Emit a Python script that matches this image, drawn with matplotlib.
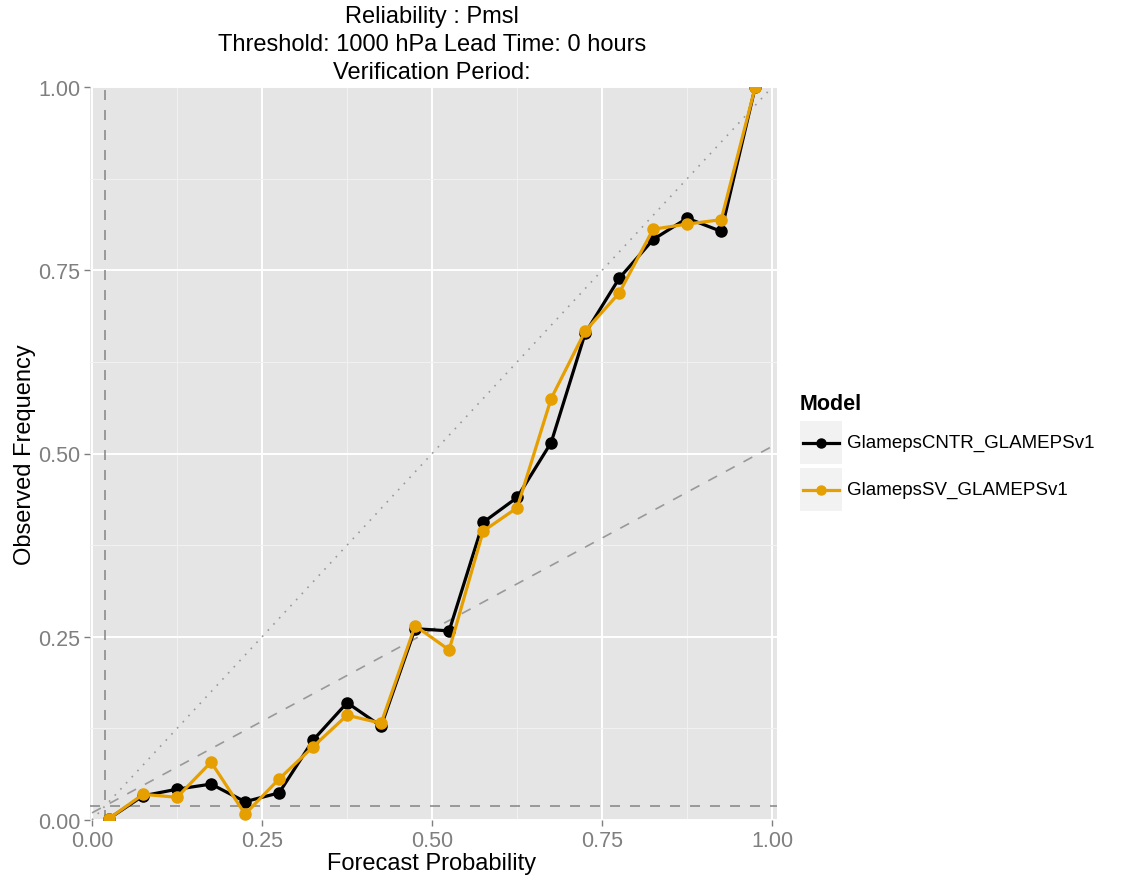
import matplotlib
matplotlib.use("Agg")
import matplotlib.pyplot as plt
from matplotlib.lines import Line2D
from matplotlib.patches import Rectangle

plt.rcParams['font.family'] = ['Liberation Sans', 'DejaVu Sans']

# forecast probability bins and observed frequencies
prob = [0.025, 0.075, 0.125, 0.175, 0.225, 0.275, 0.325, 0.375, 0.425, 0.475,
        0.525, 0.575, 0.625, 0.675, 0.725, 0.775, 0.825, 0.875, 0.925, 0.975]
cntr = [0.002, 0.033, 0.042, 0.049, 0.025, 0.037, 0.109, 0.160, 0.128, 0.261,
        0.258, 0.406, 0.440, 0.515, 0.664, 0.739, 0.792, 0.821, 0.803, 1.0]
sv = [0.002, 0.035, 0.031, 0.079, 0.008, 0.056, 0.100, 0.143, 0.132, 0.265,
      0.232, 0.394, 0.426, 0.575, 0.667, 0.719, 0.806, 0.813, 0.819, 1.0]
models = ["GlamepsCNTR_GLAMEPSv1", "GlamepsSV_GLAMEPSv1"]
colours = ["#000000", "#E69F00"]
clim = 0.0195
ticks = [0.0, 0.25, 0.5, 0.75, 1.0]
tick_labels = ["0.00", "0.25", "0.50", "0.75", "1.00"]
title_lines = ["Reliability : Pmsl",
               "Threshold: 1000 hPa Lead Time: 0 hours",
               "Verification Period:"]

W, H = 1130, 879
fig = plt.figure(figsize=(W / 100, H / 100), dpi=100)
ax = fig.add_axes([90 / W, 1 - 821 / H, 687 / W, 733 / H])
ax.set_facecolor("#E5E5E5")
for s in ax.spines.values():
    s.set_visible(False)

ax.set_xlim(-0.003, 1.007)
ax.set_ylim(0, 1)
ax.set_xticks(ticks)
ax.set_xticklabels(tick_labels)
ax.set_yticks(ticks)
ax.set_yticklabels(tick_labels)
ax.set_xticks([0.125, 0.375, 0.625, 0.875], minor=True)
ax.set_yticks([0.125, 0.375, 0.625, 0.875], minor=True)
ax.grid(which="major", color="white", lw=1.4)
ax.grid(which="minor", color="#F2F2F2", lw=0.7)
ax.set_axisbelow(True)
ax.tick_params(which="major", colors="#7F7F7F", labelsize=15.5, length=4, width=1, pad=3)
ax.tick_params(which="minor", length=0)

# reference lines
ax.plot([0, 1], [0, 1], color="#999999", ls=(0, (1, 4)), lw=1.2)
ax.plot([0, 1], [clim / 2, (1 + clim) / 2], color="#999999", ls=(0, (6, 6)), lw=1.2)
ax.axhline(clim, color="#8C8C8C", ls=(0, (6, 6)), lw=1.2)
ax.axvline(clim, color="#8C8C8C", ls=(0, (6, 6)), lw=1.2)

for vals, col in zip([cntr, sv], colours):
    ax.plot(prob, vals, color=col, lw=2.3, marker="o", ms=8, zorder=3)

# titles and axis labels
for i, line in enumerate(title_lines):
    fig.text(432 / W, 1 - (17 + 28 * i) / H, line, fontsize=17, ha="center", va="center")
fig.text(432 / W, 1 - 864 / H, "Forecast Probability", fontsize=17, ha="center", va="center")
fig.text(25 / W, 1 - 455 / H, "Observed Frequency", fontsize=17, ha="center", va="center",
         rotation=90)

# legend drawn in pixel units
lax = fig.add_axes([0, 0, 1, 1])
lax.set_xlim(0, W)
lax.set_ylim(H, 0)
lax.axis("off")
lax.text(800, 405, "Model", fontsize=15.5, fontweight="bold", va="center", ha="left")
for i, (name, col) in enumerate(zip(models, colours)):
    top = 422 + 47 * i
    lax.add_patch(Rectangle((800, top), 42, 43, facecolor="#F2F2F2", edgecolor="none"))
    yc = top + 21.5
    lax.add_line(Line2D([803, 839], [yc, yc], color=col, lw=2.3))
    lax.plot([821], [yc], marker="o", color=col, ms=6.5)
    lax.text(847, yc, name, fontsize=13.5, va="center", ha="left")

fig.savefig("out.png", dpi=100)
